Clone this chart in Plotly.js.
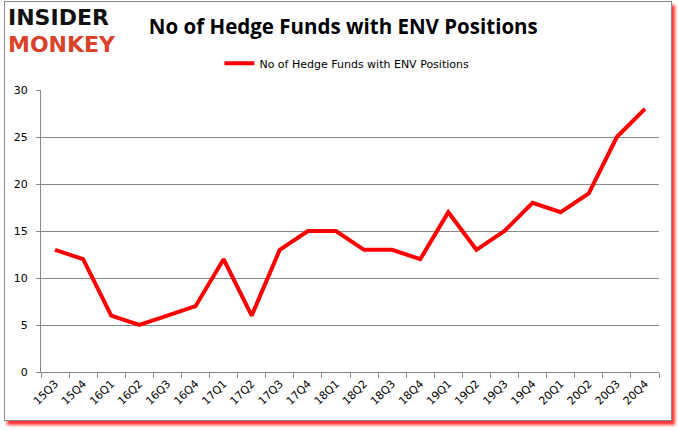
<!DOCTYPE html>
<html>
<head>
<meta charset="utf-8">
<script src="https://cdn.plot.ly/plotly-3.0.1.min.js"></script>
<style>
  body { margin: 0; background: #ffffff; }
  #frame {
    position: absolute; left: 4px; top: 1px;
    width: 666px; height: 418px;
    border: 1px solid #8a8a8a;
    box-shadow: 3px 4px 3px #ff3030;
    background: #ffffff;
  }
  #chart { width: 666px; height: 418px; }
</style>
</head>
<body>
<div id="frame"><div id="chart"></div></div>
<script>
// ------------------------------------------------------------------------------
// DATA

const quarters = ['15Q3', '15Q4', '16Q1', '16Q2', '16Q3', '16Q4', '17Q1', '17Q2',
                  '17Q3', '17Q4', '18Q1', '18Q2', '18Q3', '18Q4', '19Q1', '19Q2',
                  '19Q3', '19Q4', '20Q1', '20Q2', '20Q3', '20Q4'];
const fund_counts = [13, 12, 6, 5, 6, 7, 12, 6, 13, 15, 15, 13, 13, 12, 17, 13,
                     15, 18, 17, 19, 25, 28];
const y_ticks = [0, 5, 10, 15, 20, 25, 30];

const series_name = 'No of Hedge Funds with ENV Positions';
const font_family = 'Tahoma, Verdana, "DejaVu Sans", sans-serif';

// ------------------------------------------------------------------------------
// PLOT

const trace = {
    x: quarters,
    y: fund_counts,
    name: series_name,
    type: 'scatter',
    mode: 'lines',
    line: { color: '#ff0000', width: 4 },
    showlegend: true,
    hoverinfo: 'none'
};

const layout = {
    width: 666,
    height: 418,
    paper_bgcolor: '#ffffff',
    plot_bgcolor: '#ffffff',
    font: { family: font_family, color: '#000000', size: 11 },
    margin: { l: 36, r: 12, t: 88, b: 48 },
    title: {
        text: '<b>No of Hedge Funds with ENV Positions</b>',
        font: { family: '"Open Sans", "Liberation Sans", sans-serif', size: 20.5, color: '#000000' },
        x: 0.508, xanchor: 'center',
        y: 0.94, yanchor: 'middle'
    },
    showlegend: true,
    legend: {
        orientation: 'h',
        x: 0.495, xanchor: 'center',
        y: 1.095, yanchor: 'middle',
        font: { family: font_family, size: 11, color: '#000000' },
        itemwidth: 30
    },
    xaxis: {
        type: 'category',
        range: [-0.5, quarters.length - 0.5],
        tickangle: -45,
        tickson: 'boundaries',
        ticks: 'outside',
        ticklen: 5,
        tickcolor: '#888888',
        showline: true,
        linecolor: '#888888',
        linewidth: 1,
        showgrid: false,
        zeroline: false,
        tickfont: { family: font_family, size: 11, color: '#000000' }
    },
    yaxis: {
        range: [0, 30],
        tickvals: y_ticks,
        ticks: 'outside',
        ticklen: 4,
        tickcolor: '#888888',
        showline: true,
        linecolor: '#888888',
        linewidth: 1,
        showgrid: true,
        gridcolor: '#888888',
        gridwidth: 1,
        zeroline: false,
        ticklabelstandoff: 6,
        tickfont: { family: font_family, size: 11, color: '#000000' }
    },
    annotations: [
        {
            text: '<b>INSIDER</b>',
            xref: 'paper', yref: 'paper',
            x: -0.057, y: 1.258, xanchor: 'left', yanchor: 'middle',
            showarrow: false,
            font: { family: '"DejaVu Sans", sans-serif', size: 22, color: '#111111' }
        },
        {
            text: '<b>MONKEY</b>',
            xref: 'paper', yref: 'paper',
            x: -0.057, y: 1.163, xanchor: 'left', yanchor: 'middle',
            showarrow: false,
            font: { family: '"DejaVu Sans", sans-serif', size: 22, color: '#d9432b' }
        }
    ]
};

Plotly.newPlot('chart', [trace], layout, { displayModeBar: false, staticPlot: true });
</script>
</body>
</html>
